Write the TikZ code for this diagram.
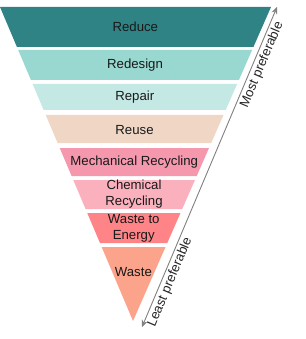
\documentclass[tikz,border=0pt]{standalone}
\usepackage{fontspec}
\setmainfont{Liberation Sans}
\usepackage{xcolor}
\usepackage{tikz}
\usetikzlibrary{arrows.meta, positioning, calc}

\definecolor{cReduce}{HTML}{2F8385}
\definecolor{cRedesign}{HTML}{98D8D0}
\definecolor{cRepair}{HTML}{C4E9E4}
\definecolor{cReuse}{HTML}{F0D7C5}
\definecolor{cMech}{HTML}{F598AE}
\definecolor{cChem}{HTML}{FBB0BE}
\definecolor{cEnergy}{HTML}{FF8487}
\definecolor{cWaste}{HTML}{FCA38B}
\definecolor{cArrow}{HTML}{808080}

\begin{document}
\begin{tikzpicture}[
    x=1pt, y=-1pt,
    band_lbl/.style={align=center, inner sep=0pt, text=black!90, font=\fontsize{13.2}{16}\selectfont},
    pref_lbl/.style={font=\fontsize{13.2}{16}\selectfont, text=black!85, inner sep=2pt},
    pref_arrow/.style={{Stealth[length=7pt,width=6pt]}-{Stealth[length=7pt,width=6pt]}, cArrow, line width=0.9pt}
]
    \useasboundingbox (0,0) rectangle (305,339);

    % bands of the inverted triangle: top y / bottom y / text y / colour / text / name
    \foreach \yt/\yb/\ty/\col/\txt/\nm in {
        7/47/27/cReduce/Reduce/reduce,
        50/80/65/cRedesign/Redesign/redesign,
        84/110/97/cRepair/Repair/repair,
        115/143/130/cReuse/Reuse/reuse,
        148/176/162/cMech/Mechanical Recycling/mech,
        180/209/194.5/cChem/{Chemical\\Recycling}/chem,
        213/243/228.5/cEnergy/{Waste to\\Energy}/energy,
        247/321/272/cWaste/Waste/waste}
    {
        \fill[\col] ({(\yt-7)/314*133}, \yt) -- ({271-(\yt-7)/314*138}, \yt)
            -- ({271-(\yb-7)/314*138}, \yb) -- ({(\yb-7)/314*133}, \yb) -- cycle;
        \node[band_lbl] (\nm) at ({(271-(\ty-7)/314*5)/2}, \ty) {\txt};
    }

    % preference arrow
    \coordinate (least) at (142,327);
    \coordinate (most) at (277,7);
    \draw[pref_arrow] (least) --
        node[pref_lbl, pos=0.15, sloped, below] {Least preferable}
        node[pref_lbl, pos=0.83, sloped, below] {Most preferable} (most);
\end{tikzpicture}
\end{document}
